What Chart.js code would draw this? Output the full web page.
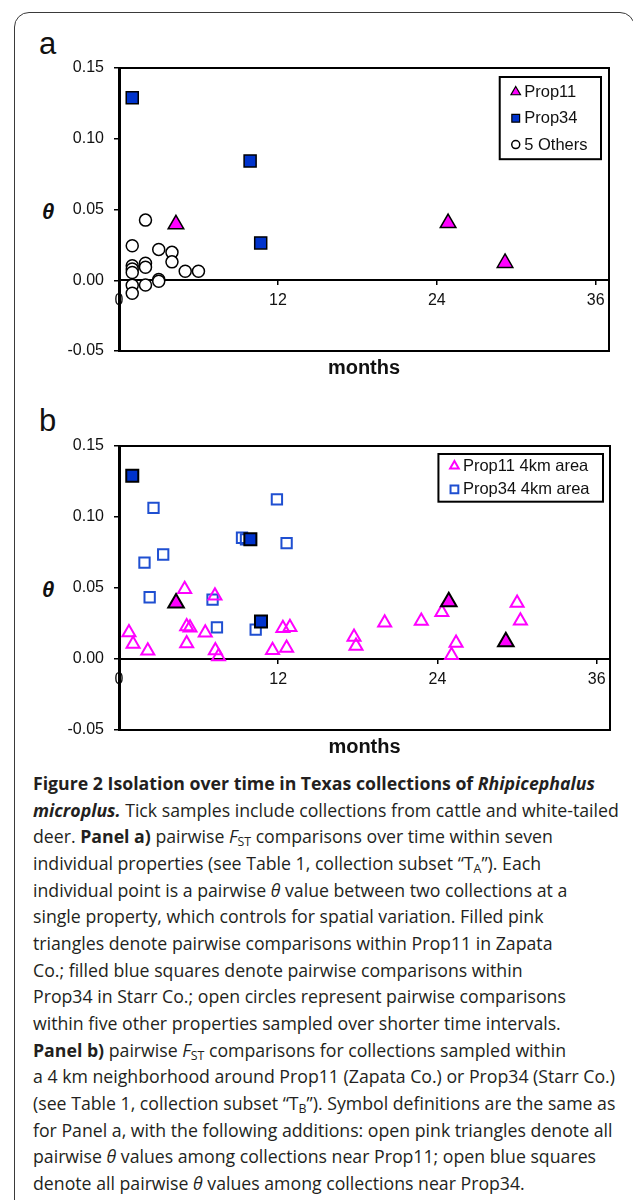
<!DOCTYPE html>
<html>
<head>
<meta charset="utf-8">
<script src="https://cdn.jsdelivr.net/npm/chart.js@4.4.1/dist/chart.umd.min.js"></script>
<style>
html, body { margin: 0; padding: 0; background: #fff; }
body { width: 633px; height: 1200px; position: relative; overflow: hidden; font-family: "Liberation Sans", Arial, sans-serif; color: #111; }
.frame { position: absolute; left: 14px; top: 12px; width: 619px; height: 1240px; border: 1px solid #3a3a3a; border-radius: 15px; }
canvas { position: absolute; left: 0; }
#chartA { top: 0; }
#chartB { top: 380px; }
.tag { position: absolute; left: 39px; font-size: 31px; line-height: 31px; }
.theta { position: absolute; left: 42px; font: italic bold 22px/22px "Liberation Sans", Arial, sans-serif; }
.caption { position: absolute; left: 33px; top: 770px; font-family: "Open Sans", Lato, sans-serif; font-size: 18px; line-height: 26.67px; color: #231f20; white-space: nowrap; }
.caption div { width: max-content; }
.caption sub { font-size: 0.7em; vertical-align: -0.25em; line-height: 0; }
</style>
</head>
<body>
<div class="frame"></div>
<div class="tag" style="top:28px">a</div>
<div class="tag" style="top:405px">b</div>
<div class="theta" style="top:201px">θ</div>
<div class="theta" style="top:579px">θ</div>
<canvas id="chartA" width="633" height="380" style="width:633px;height:380px"></canvas>
<canvas id="chartB" width="633" height="380" style="width:633px;height:380px"></canvas>
<div class="caption">
<div><b>Figure 2 Isolation over time in Texas collections of <i>Rhipicephalus</i></b></div>
<div><b><i>microplus.</i></b> Tick samples include collections from cattle and white-tailed</div>
<div>deer. <b>Panel a)</b> pairwise <i>F</i><sub>ST</sub> comparisons over time within seven</div>
<div>individual properties (see Table 1, collection subset “T<sub>A</sub>”). Each</div>
<div>individual point is a pairwise <i>θ</i> value between two collections at a</div>
<div>single property, which controls for spatial variation. Filled pink</div>
<div>triangles denote pairwise comparisons within Prop11 in Zapata</div>
<div>Co.; filled blue squares denote pairwise comparisons within</div>
<div>Prop34 in Starr Co.; open circles represent pairwise comparisons</div>
<div>within five other properties sampled over shorter time intervals.</div>
<div><b>Panel b)</b> pairwise <i>F</i><sub>ST</sub> comparisons for collections sampled within</div>
<div>a 4 km neighborhood around Prop11 (Zapata Co.) or Prop34 (Starr Co.)</div>
<div>(see Table 1, collection subset “T<sub>B</sub>”). Symbol definitions are the same as</div>
<div>for Panel a, with the following additions: open pink triangles denote all</div>
<div>pairwise <i>θ</i> values among collections near Prop11; open blue squares</div>
<div>denote all pairwise <i>θ</i> values among collections near Prop34.</div>
</div>

<script>
// axis ticks
const xTicks = [0, 12, 24, 36];
const yTicks = [-0.05, 0, 0.05, 0.10, 0.15];

// filled symbols (same in both panels)
const prop11Months = [4.3, 24.85, 29.15];
const prop11Theta = [0.0395, 0.0404, 0.0122];
const prop34Months = [1.0, 9.9, 10.7];
const prop34Theta = [0.1290, 0.0843, 0.0264];

// panel a: five other properties
const othersMonths = [2.0, 1.0, 3.0, 4.0, 4.0, 2.0, 2.0, 1.0, 1.0, 1.0, 5.0, 6.0, 3.0, 3.0, 1.0, 2.0, 1.0];
const othersTheta = [0.0425, 0.0244, 0.0218, 0.0197, 0.0130, 0.0120, 0.0092, 0.0103, 0.0079, 0.0055, 0.0064, 0.0064, 0.0005, -0.0007, -0.0035, -0.0033, -0.0092];

// panel b: 4 km neighbourhoods
const p11AreaMonths = [0.75, 1.06, 2.17, 4.95, 5.1, 5.35, 5.1, 6.5, 7.23, 7.26, 7.5, 11.57, 12.35, 12.88, 12.63, 17.71, 17.86, 20.02, 22.78, 24.33, 25.06, 25.4, 30.0, 30.25];
const p11AreaTheta = [0.0187, 0.0106, 0.0058, 0.0492, 0.0228, 0.0220, 0.0110, 0.0184, 0.0445, 0.0059, 0.0018, 0.0061, 0.0217, 0.0224, 0.0077, 0.0155, 0.0092, 0.0256, 0.0268, 0.0329, 0.0026, 0.0113, 0.0394, 0.0270];
const p34AreaMonths = [2.6, 11.9, 1.92, 3.33, 2.31, 9.27, 9.57, 12.63, 7.05, 7.38, 10.3];
const p34AreaTheta = [0.1064, 0.1124, 0.0679, 0.0736, 0.0435, 0.0854, 0.0842, 0.0816, 0.0418, 0.0223, 0.0207];

const PINK = '#ff00ff';
const BLUE = '#0033cc';
const OPEN_BLUE = '#1f4fd1';
const FONT = '"Liberation Sans", Arial, sans-serif';

Chart.defaults.font.family = FONT;
Chart.defaults.color = '#111';

// size the caption so its longest line ends where it does in the figure
const caption = document.querySelector('.caption');
const widest = Math.max(...[...caption.children].map(d => d.getBoundingClientRect().width));
caption.style.fontSize = (18 * 586 / widest) + 'px';

function points(xs, ys) {
    return xs.map((x, i) => ({ x: x, y: ys[i] }));
}

function marker(ctx, style, x, y, r) {
    ctx.beginPath();
    if (style === 'triangle') {
        ctx.moveTo(x, y - r);
        ctx.lineTo(x + r * 0.866, y + r * 0.5);
        ctx.lineTo(x - r * 0.866, y + r * 0.5);
        ctx.closePath();
    } else if (style === 'rect') {
        ctx.rect(x - r * 0.707, y - r * 0.707, r * 1.414, r * 1.414);
    } else {
        ctx.arc(x, y, r, 0, Math.PI * 2);
    }
}

// legend box drawn inside the plot, top right
const boxLegend = {
    id: 'boxLegend',
    afterDraw(chart, args, opts) {
        const { ctx, chartArea } = chart;
        const items = opts.items.map(i => chart.data.datasets[i]);
        ctx.save();
        ctx.font = '16.5px ' + FONT;
        const textW = Math.max(...items.map(d => ctx.measureText(d.label).width));
        const w = 24.5 + textW + 13.5;
        const h = opts.padTop + opts.rowGap * (items.length - 1) + opts.padBottom;
        const left = chartArea.right - opts.right - w;
        const top = chartArea.top + opts.top;
        ctx.fillStyle = '#fff';
        ctx.fillRect(left, top, w, h);
        ctx.lineWidth = 2;
        ctx.strokeStyle = '#000';
        ctx.strokeRect(left, top, w, h);
        items.forEach((d, k) => {
            const y = top + opts.padTop + k * opts.rowGap;
            marker(ctx, d.pointStyle, left + 16, y, opts.radius[k]);
            ctx.fillStyle = d.backgroundColor;
            ctx.fill();
            ctx.lineWidth = opts.lineWidth[k];
            ctx.strokeStyle = d.borderColor;
            ctx.stroke();
            ctx.fillStyle = '#111';
            ctx.textBaseline = 'middle';
            ctx.fillText(d.label, left + 24.5, y + 0.5);
        });
        ctx.restore();
    }
};

function frameAxis(pos, sizeSide, extra) {
    return Object.assign({
        type: 'linear',
        position: pos,
        ticks: { display: false },
        grid: { display: false },
        border: { display: true, color: '#000', width: 2 },
        afterFit: s => { s[sizeSide] = 0; }
    }, extra);
}

function makePanel(id, datasets, legend, lay) {
    new Chart(document.getElementById(id), {
        type: 'scatter',
        data: { datasets: datasets },
        options: {
            responsive: false,
            animation: false,
            events: [],
            layout: { padding: { top: lay.top, right: lay.right, bottom: 0, left: 0 } },
            plugins: { legend: { display: false }, tooltip: { enabled: false }, boxLegend: legend },
            scales: {
                x: {
                    type: 'linear',
                    position: { y: 0 },
                    min: 0, max: 37,
                    afterBuildTicks: s => { s.ticks = xTicks.map(v => ({ value: v })); },
                    ticks: { font: { size: 16 }, padding: 7, maxRotation: 0, autoSkip: false },
                    grid: { display: true, drawOnChartArea: false, drawTicks: true, tickLength: 4, color: '#000', lineWidth: 1.5 },
                    border: { display: true, color: '#000', width: 2 }
                },
                y: {
                    type: 'linear',
                    position: 'left',
                    min: -0.05, max: 0.15,
                    afterBuildTicks: s => { s.ticks = yTicks.map(v => ({ value: v })); },
                    afterFit: s => { s.width = 119; },
                    ticks: { font: { size: 16 }, padding: 10, callback: v => v.toFixed(2) },
                    grid: { display: true, drawOnChartArea: false, drawTicks: true, tickLength: 5, color: '#000', lineWidth: 1.5 },
                    border: { display: true, color: '#000', width: 3 }
                },
                xTop: frameAxis('top', 'height', { min: 0, max: 37 }),
                yRight: frameAxis('right', 'width', { min: -0.05, max: 0.15 }),
                xBottom: {
                    type: 'linear',
                    position: 'bottom',
                    min: 0, max: 37,
                    ticks: { display: false },
                    grid: { display: false },
                    border: { display: true, color: '#000', width: 2 },
                    title: { display: true, text: 'months', font: { size: 20, weight: 'bold' }, color: '#111', padding: { top: 0, bottom: lay.titlePad } },
                    afterFit: s => { s.height = lay.bottomH; }
                }
            }
        },
        plugins: [boxLegend]
    });
}

const filledTri = {
    label: 'Prop11', data: points(prop11Months, prop11Theta),
    pointStyle: 'triangle', pointRadius: 9, backgroundColor: PINK, borderColor: '#000', borderWidth: 1.5
};
const filledSq = {
    label: 'Prop34', data: points(prop34Months, prop34Theta),
    pointStyle: 'rect', pointRadius: 8.5, backgroundColor: BLUE, borderColor: '#000', borderWidth: 1.5
};

// Panel a
makePanel('chartA', [
    filledTri,
    filledSq,
    {
        label: '5 Others', data: points(othersMonths, othersTheta),
        pointStyle: 'circle', pointRadius: 6, backgroundColor: '#fff', borderColor: '#000', borderWidth: 1.5
    }
], {
    items: [0, 1, 2], top: 9, right: 8, padTop: 15, rowGap: 26.3, padBottom: 14.6,
    radius: [5.5, 5.5, 4], lineWidth: [1.2, 1.2, 1.5]
}, { top: 68, right: 24, bottomH: 29, titlePad: 0 });

// Panel b
makePanel('chartB', [
    Object.assign({}, filledTri, { borderWidth: 2 }),
    Object.assign({}, filledSq, { borderWidth: 2 }),
    {
        label: 'Prop11 4km area', data: points(p11AreaMonths, p11AreaTheta),
        pointStyle: 'triangle', pointRadius: 7.5, backgroundColor: 'rgba(255,255,255,0)', borderColor: PINK, borderWidth: 2
    },
    {
        label: 'Prop34 4km area', data: points(p34AreaMonths, p34AreaTheta),
        pointStyle: 'rect', pointRadius: 7.3, backgroundColor: 'rgba(255,255,255,0)', borderColor: OPEN_BLUE, borderWidth: 2
    }
], {
    items: [2, 3], top: 8, right: 7, padTop: 12, rowGap: 23.3, padBottom: 12.4,
    radius: [5, 5.5], lineWidth: [2, 2]
}, { top: 66, right: 23, bottomH: 30, titlePad: 1 });
</script>
</body>
</html>
